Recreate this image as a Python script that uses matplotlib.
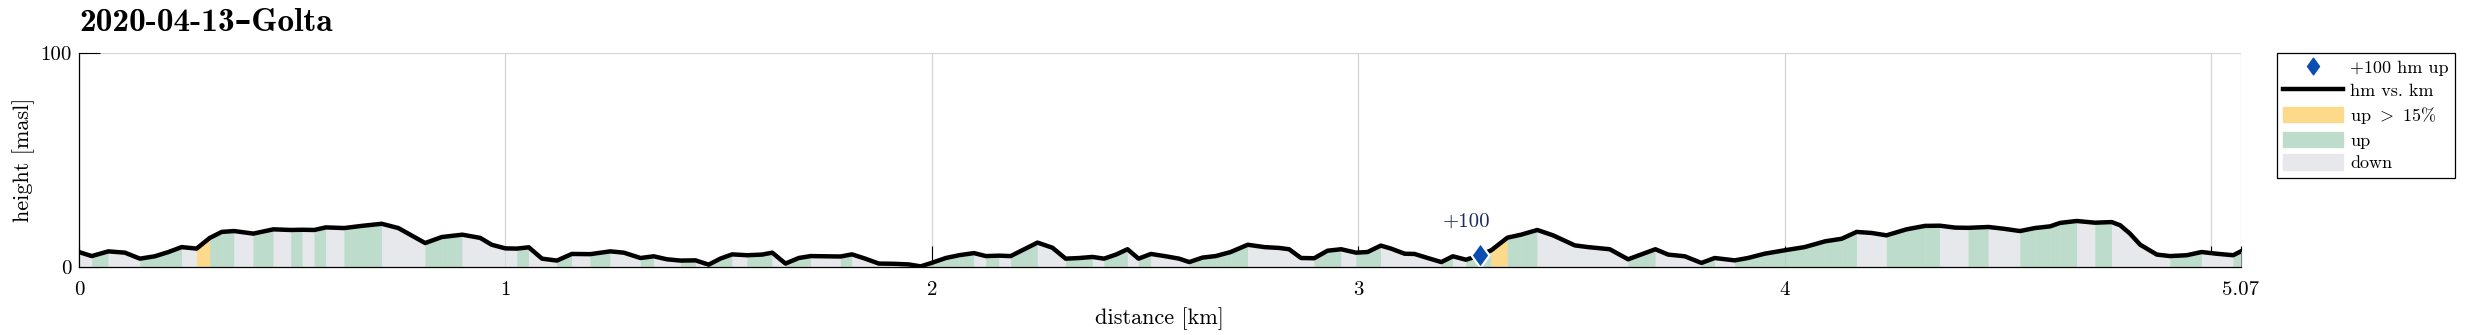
import matplotlib
matplotlib.use('Agg')
import matplotlib.pyplot as plt
from matplotlib.lines import Line2D
from matplotlib.patches import Patch
from matplotlib.path import Path

plt.rcParams['font.family'] = ['cmr10', 'DejaVu Serif']
plt.rcParams['mathtext.fontset'] = 'cm'
plt.rcParams['axes.formatter.use_mathtext'] = True

# profile: distance [km] and height [masl]
dist_km = [0.000, 0.030, 0.069, 0.108, 0.143, 0.178, 0.210, 0.241, 0.276, 0.307,
           0.335, 0.364, 0.409, 0.456, 0.497, 0.524, 0.552, 0.579, 0.622, 0.663,
           0.710, 0.749, 0.812, 0.851, 0.899, 0.941, 0.968, 1.000, 1.027, 1.055,
           1.086, 1.121, 1.156, 1.199, 1.246, 1.278, 1.317, 1.348, 1.379, 1.411,
           1.446, 1.477, 1.504, 1.532, 1.567, 1.602, 1.626, 1.657, 1.688, 1.716,
           1.755, 1.786, 1.813, 1.844, 1.876, 1.911, 1.946, 1.974, 2.001, 2.033,
           2.064, 2.099, 2.127, 2.158, 2.185, 2.217, 2.248, 2.283, 2.314, 2.346,
           2.377, 2.404, 2.432, 2.459, 2.485, 2.514, 2.549, 2.580, 2.604, 2.635,
           2.666, 2.701, 2.741, 2.780, 2.815, 2.838, 2.866, 2.897, 2.928, 2.960,
           2.995, 3.022, 3.053, 3.077, 3.109, 3.132, 3.163, 3.195, 3.222, 3.253,
           3.285, 3.312, 3.350, 3.382, 3.420, 3.457, 3.508, 3.539, 3.590, 3.633,
           3.664, 3.697, 3.727, 3.766, 3.805, 3.836, 3.883, 3.914, 3.953, 4.000,
           4.047, 4.075, 4.095, 4.134, 4.169, 4.204, 4.239, 4.286, 4.329, 4.364,
           4.400, 4.431, 4.478, 4.513, 4.552, 4.587, 4.623, 4.646, 4.685, 4.728,
           4.767, 4.787, 4.810, 4.834, 4.873, 4.904, 4.943, 4.978, 5.013, 5.052,
           5.070]
height_m = [7.0, 5.1, 7.3, 6.7, 3.9, 5.0, 7.0, 9.3, 8.6, 13.6,
            16.4, 16.8, 15.6, 17.6, 17.3, 17.4, 17.3, 18.5, 18.2, 19.2,
            20.2, 18.2, 11.2, 14.0, 15.1, 13.6, 10.4, 8.7, 8.6, 9.2,
            3.9, 3.0, 6.1, 6.0, 7.3, 6.7, 4.2, 5.0, 3.6, 3.0,
            3.1, 1.1, 3.9, 5.9, 5.5, 5.8, 6.7, 1.6, 4.2, 5.1,
            5.0, 4.9, 5.9, 3.9, 1.6, 1.5, 1.2, 0.3, 2.0, 4.2,
            5.5, 6.5, 5.1, 5.3, 5.1, 8.3, 11.4, 9.0, 3.9, 4.2,
            4.7, 3.9, 5.8, 8.3, 3.9, 6.1, 5.0, 3.9, 2.3, 4.4,
            5.1, 7.0, 10.4, 9.3, 8.9, 8.3, 4.2, 4.1, 7.6, 8.3,
            6.7, 7.0, 10.0, 8.6, 6.2, 6.1, 4.2, 2.3, 5.0, 3.4,
            5.5, 7.8, 13.7, 15.1, 17.3, 14.8, 10.1, 9.3, 8.3, 3.6,
            5.9, 8.3, 5.8, 5.0, 1.9, 4.2, 3.1, 4.2, 6.2, 7.8,
            9.3, 10.9, 12.0, 13.2, 16.4, 15.9, 14.8, 17.6, 19.2, 19.3,
            18.4, 18.3, 18.7, 17.9, 16.8, 18.2, 19.0, 20.6, 21.5, 20.7,
            21.0, 19.5, 15.6, 10.4, 5.8, 5.1, 5.5, 7.0, 6.2, 5.5,
            7.3]

# +100 hm marker
marker_km = [3.285]
marker_h = [5.5]
marker_text = ['+100']

x_ticks = [0, 1, 2, 3, 4, 5, 5.07]
x_tick_labels = ['0', '1', '2', '3', '4', '', '5.07']
y_ticks = [0, 100]
y_tick_labels = ['0', '100']

c_steep = '#fdd98c'
c_up = '#bddccb'
c_down = '#e7e8eb'
c_blue = '#0b4db0'

# matlab-like diamond (wider than mpl 'd')
diamond = Path([(0, 1), (0.72, 0), (0, -1), (-0.72, 0), (0, 1)],
               [Path.MOVETO, Path.LINETO, Path.LINETO, Path.LINETO, Path.CLOSEPOLY])

fig = plt.figure(figsize=(24.66, 3.35), dpi=100)
ax = fig.add_axes([0.0320, 0.2030, 0.8767, 0.6388])

# coloured strips under each segment by slope
for i in range(len(dist_km) - 1):
    dh = height_m[i + 1] - height_m[i]
    dx = (dist_km[i + 1] - dist_km[i]) * 1000
    if dh > 0 and dh / dx > 0.15:
        col = c_steep
    elif dh > 0:
        col = c_up
    else:
        col = c_down
    ax.fill_between(dist_km[i:i + 2], 0, height_m[i:i + 2], color=col,
                    lw=0.3, zorder=1)

ax.plot(dist_km, height_m, color='k', lw=3.2, zorder=3, solid_joinstyle='round')
ax.plot(marker_km, marker_h, ls='none', marker=diamond, ms=18, mfc=c_blue,
        mec='white', mew=1.6, zorder=4)
for xk, t in zip(marker_km, marker_text):
    ax.text(xk - 0.03, 21.4, t, ha='center', va='center', color='#1c2b5c', fontsize=15)

ax.set_xlim(0, 5.07)
ax.set_ylim(0, 100)
ax.set_xticks(x_ticks)
ax.set_xticklabels(x_tick_labels)
ax.set_yticks(y_ticks)
ax.set_yticklabels(y_tick_labels)
ax.tick_params(direction='in', length=15, width=0.8, labelsize=15)
ax.tick_params(axis='x', pad=10)
ax.tick_params(axis='y', pad=5)
ax.grid(True, color='#d4d4d4', lw=0.9, zorder=0)
ax.set_axisbelow(True)
for s in ['top', 'right']:
    ax.spines[s].set_visible(False)
for s in ['left', 'bottom']:
    ax.spines[s].set_linewidth(0.9)
    ax.spines[s].set_zorder(5)

ax.set_xlabel('distance [km]', fontsize=16, labelpad=6)
ax.set_ylabel('height [masl]', fontsize=16, labelpad=4)
ax.set_title('2020-04-13\u2013Golta', loc='left', fontsize=24,
             family=['cmb10', 'DejaVu Serif'], fontweight='bold', pad=16)

handles = [
    Line2D([], [], ls='none', marker=diamond, ms=12, mfc=c_blue, mec=c_blue),
    Line2D([], [], color='k', lw=3.2),
    Patch(color=c_steep),
    Patch(color=c_up),
    Patch(color=c_down),
]
labels = ['+100 hm up', 'hm vs. km', r'up $>$ 15%', 'up', 'down']
leg = fig.legend(handles, labels, loc='upper left', bbox_to_anchor=(0.9234, 0.842),
                 fontsize=13, frameon=True, fancybox=False, framealpha=1,
                 edgecolor='k', handlelength=3.3, handleheight=0.95,
                 handletextpad=0.4, borderpad=0.35, labelspacing=0.32,
                 borderaxespad=0)
leg.get_frame().set_linewidth(0.9)

fig.savefig('out.png', dpi=100)
